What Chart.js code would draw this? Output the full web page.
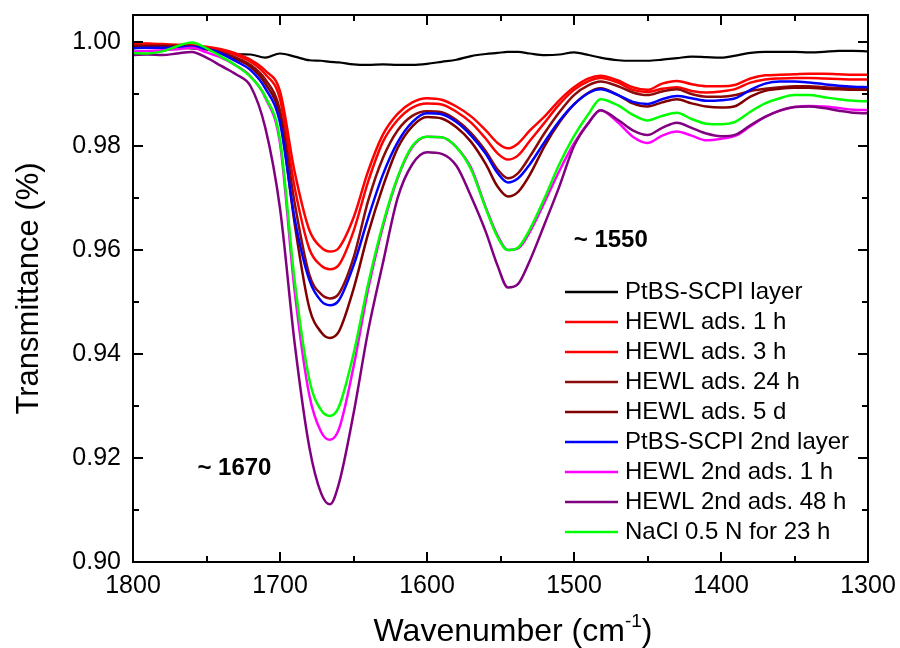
<!DOCTYPE html>
<html>
<head>
<meta charset="utf-8">
<script src="https://cdn.jsdelivr.net/npm/chart.js@4.4.1/dist/chart.umd.min.js"></script>
<style>
  body { margin: 0; background: #fff; }
  #wrap { width: 900px; height: 648px; }
</style>
</head>
<body>
<div id="wrap"><canvas id="myChart"></canvas></div>
<script>
// wavenumber grid (cm-1)
var wavenumbers = [1800, 1790, 1780, 1770, 1760, 1750, 1740, 1730, 1720, 1710,
  1700, 1690, 1680, 1672, 1666, 1660, 1650, 1640, 1630, 1620,
  1610, 1600, 1590, 1580, 1570, 1560, 1552, 1545, 1538, 1530,
  1520, 1510, 1500, 1490, 1482, 1470, 1460, 1450, 1440, 1430,
  1420, 1410, 1400, 1390, 1380, 1370, 1360, 1350, 1340, 1330,
  1320, 1310, 1300];

var pss1 = [0.9992, 0.9991, 0.9990, 0.9989, 0.9988, 0.9986, 0.9984, 0.9977, 0.9976, 0.9970,
  0.9978, 0.9972, 0.9965, 0.9964, 0.9962, 0.9961, 0.9957, 0.9956, 0.9957, 0.9956,
  0.9956, 0.9958, 0.9962, 0.9966, 0.9973, 0.9977, 0.9979, 0.9981, 0.9981, 0.9978,
  0.9975, 0.9976, 0.9980, 0.9975, 0.9970, 0.9965, 0.9964, 0.9964, 0.9966, 0.9969,
  0.9972, 0.9971, 0.9970, 0.9974, 0.9979, 0.9981, 0.9981, 0.9981, 0.9980, 0.9981,
  0.9983, 0.9983, 0.9982];

var hewl1h = [0.99975, 0.9997, 0.9996, 0.9995, 0.9994, 0.9991, 0.9986, 0.9978, 0.9966, 0.9945,
  0.9905, 0.9750, 0.9638, 0.9605, 0.9597, 0.9604, 0.9662, 0.9752, 0.9822, 0.9862,
  0.9884, 0.9892, 0.9889, 0.9876, 0.9857, 0.9830, 0.9806, 0.97955, 0.9805, 0.9830,
  0.9857, 0.9888, 0.9913, 0.9930, 0.9935, 0.9926, 0.9913, 0.9908, 0.9920, 0.9925,
  0.9919, 0.9915, 0.9915, 0.9918, 0.9930, 0.9936, 0.9937, 0.9938, 0.9939, 0.9939,
  0.9938, 0.9937, 0.9937];

var hewl3h = [0.9996, 0.9996, 0.9995, 0.9994, 0.9993, 0.9989, 0.9984, 0.9975, 0.9962, 0.9938,
  0.9890, 0.9720, 0.9602, 0.9570, 0.9563, 0.9571, 0.9636, 0.9732, 0.9808, 0.9850,
  0.9874, 0.9882, 0.9880, 0.9866, 0.9845, 0.9814, 0.9786, 0.9774, 0.9782, 0.9810,
  0.9845, 0.9880, 0.9908, 0.9925, 0.9931, 0.9922, 0.9908, 0.9904, 0.9910, 0.9913,
  0.9906, 0.9903, 0.9905, 0.9910, 0.9922, 0.9928, 0.9930, 0.9931, 0.9931, 0.9930,
  0.9929, 0.9928, 0.9928];

var hewl24h = [0.9993, 0.9993, 0.9993, 0.9993, 0.9992, 0.9987, 0.9980, 0.9970, 0.9956, 0.9928,
  0.9868, 0.9690, 0.9552, 0.9515, 0.9507, 0.9516, 0.9585, 0.9695, 0.9777, 0.9830,
  0.9858, 0.9867, 0.9865, 0.9850, 0.9825, 0.9790, 0.9755, 0.9738, 0.9748, 0.9780,
  0.9825, 0.9865, 0.9898, 0.9917, 0.9924, 0.9915, 0.9903, 0.9898, 0.9905, 0.9909,
  0.9900, 0.9895, 0.9895, 0.9898, 0.9906, 0.9910, 0.9913, 0.9915, 0.9915, 0.9913,
  0.9912, 0.9911, 0.9911];

var hewl5d = [0.9991, 0.9991, 0.9991, 0.9991, 0.9991, 0.9986, 0.9978, 0.9967, 0.9952, 0.9920,
  0.9855, 0.9650, 0.9488, 0.9442, 0.9431, 0.9443, 0.9525, 0.9632, 0.9722, 0.9796,
  0.9838, 0.9856, 0.9853, 0.9836, 0.9808, 0.9765, 0.9722, 0.9703, 0.9712, 0.9745,
  0.9800, 0.9845, 0.9880, 0.9903, 0.9911, 0.9898, 0.9882, 0.9876, 0.9884, 0.9890,
  0.9882, 0.9876, 0.9874, 0.9877, 0.9895, 0.9906, 0.9910, 0.9912, 0.9912, 0.9910,
  0.9909, 0.9908, 0.9908];

var pss2 = [0.9988, 0.9989, 0.9989, 0.9990, 0.9991, 0.9987, 0.9978, 0.9963, 0.9946, 0.9911,
  0.9845, 0.9660, 0.9542, 0.9502, 0.9494, 0.9503, 0.9570, 0.9662, 0.9745, 0.9807,
  0.9846, 0.9863, 0.9861, 0.9846, 0.9820, 0.9785, 0.9748, 0.9730, 0.9738, 0.9765,
  0.9808, 0.9848, 0.9880, 0.9902, 0.9909, 0.9898, 0.9885, 0.9881, 0.9890, 0.9896,
  0.9892, 0.9887, 0.9888, 0.9892, 0.9908, 0.9920, 0.9924, 0.9924, 0.9922, 0.9919,
  0.9916, 0.9914, 0.9913];

var hewl2nd1h = [0.9982, 0.9983, 0.9984, 0.9986, 0.9989, 0.9980, 0.9970, 0.9955, 0.9934, 0.9893,
  0.9805, 0.9520, 0.9320, 0.9250, 0.9235, 0.9255, 0.9375, 0.9525, 0.9645, 0.9738,
  0.9798, 0.9818, 0.9817, 0.9798, 0.9758, 0.9682, 0.9628, 0.9600, 0.9603, 0.9635,
  0.9692, 0.9752, 0.9805, 0.9845, 0.9869, 0.9845, 0.9818, 0.9806, 0.9820, 0.9828,
  0.9820, 0.9811, 0.9814, 0.9820, 0.9838, 0.9856, 0.9868, 0.9875, 0.9877, 0.9876,
  0.9873, 0.9870, 0.9869];

var hewl2nd48h = [0.9975, 0.9976, 0.9975, 0.9978, 0.9981, 0.9970, 0.9954, 0.9938, 0.9915, 0.9835,
  0.9680, 0.9420, 0.9220, 0.9132, 0.9111, 0.9150, 0.9285, 0.9445, 0.9575, 0.9700,
  0.9765, 0.9788, 0.9785, 0.9762, 0.9703, 0.9635, 0.9570, 0.9528, 0.9535, 0.9580,
  0.9650, 0.9722, 0.9800, 0.9845, 0.9869, 0.9850, 0.9830, 0.9821, 0.9835, 0.9845,
  0.9835, 0.9824, 0.9819, 0.9822, 0.9840, 0.9856, 0.9868, 0.9875, 0.9876, 0.9873,
  0.9868, 0.9864, 0.9863];

var nacl23h = [0.9979, 0.9978, 0.9982, 0.9992, 0.9999, 0.9988, 0.9972, 0.9955, 0.9933, 0.9895,
  0.9812, 0.9540, 0.9350, 0.9292, 0.9281, 0.9298, 0.9400, 0.9535, 0.9650, 0.9740,
  0.9800, 0.9818, 0.9817, 0.9798, 0.9755, 0.9680, 0.9625, 0.9600, 0.9605, 0.9640,
  0.9700, 0.9765, 0.9819, 0.9862, 0.9890, 0.9878, 0.9860, 0.9849, 0.9858, 0.9864,
  0.9852, 0.9843, 0.9842, 0.9847, 0.9866, 0.9882, 0.9892, 0.9898, 0.9898, 0.9894,
  0.9890, 0.9887, 0.9886];

var seriesNames = ["PtBS-SCPI layer", "HEWL ads. 1 h", "HEWL ads. 3 h", "HEWL ads. 24 h",
  "HEWL ads. 5 d", "PtBS-SCPI 2nd layer", "HEWL 2nd ads. 1 h", "HEWL 2nd ads. 48 h",
  "NaCl 0.5 N for 23 h"];
var seriesValues = [pss1, hewl1h, hewl3h, hewl24h, hewl5d, pss2, hewl2nd1h, hewl2nd48h, nacl23h];
var seriesColors = ["#000000", "#ff0000", "#ff0000", "#8b0a0a", "#800000", "#0000ff",
  "#ff00ff", "#800080", "#00ff00"];

var xMajorTicks = [1800, 1700, 1600, 1500, 1400, 1300];
var xMinorTicks = [1750, 1650, 1550, 1450, 1350];
var yMajorTicks = [0.90, 0.92, 0.94, 0.96, 0.98, 1.00];
var yMinorTicks = [0.91, 0.93, 0.95, 0.97, 0.99];

var peakNotes = ["~ 1670", "~ 1550"];

var FONT = "'Liberation Sans', Arial, sans-serif";

// frame, inward ticks, labels, titles, legend and band notes
var decor = {
  id: "decor",
  afterDatasetsDraw(chart) {
    var c = chart.ctx, a = chart.chartArea;
    var xs = chart.scales.x, ys = chart.scales.y;
    c.save();
    c.strokeStyle = "#000";
    c.lineWidth = 2;
    c.strokeRect(a.left, a.top, a.right - a.left, a.bottom - a.top);

    function xt(v, len) {
      var px = Math.round(xs.getPixelForValue(v));
      c.beginPath();
      c.moveTo(px, a.bottom); c.lineTo(px, a.bottom - len);
      c.moveTo(px, a.top); c.lineTo(px, a.top + len);
      c.stroke();
    }
    function yt(v, len) {
      var py = Math.round(ys.getPixelForValue(v));
      c.beginPath();
      c.moveTo(a.left, py); c.lineTo(a.left + len, py);
      c.moveTo(a.right, py); c.lineTo(a.right - len, py);
      c.stroke();
    }
    xMajorTicks.forEach(v => xt(v, 10));
    xMinorTicks.forEach(v => xt(v, 6));
    yMajorTicks.forEach(v => yt(v, 10));
    yMinorTicks.forEach(v => yt(v, 6));

    c.fillStyle = "#000";
    c.font = "25px " + FONT;
    c.textAlign = "center";
    c.textBaseline = "middle";
    xMajorTicks.forEach(v => c.fillText(String(v), xs.getPixelForValue(v), a.bottom + 24));
    c.textAlign = "right";
    yMajorTicks.forEach(v => c.fillText(v.toFixed(2), a.left - 12, ys.getPixelForValue(v)));

    // axis titles
    c.font = "31px " + FONT;
    c.save();
    c.translate(29, (a.top + a.bottom) / 2);
    c.rotate(-Math.PI / 2);
    c.textAlign = "center";
    c.fillText("Transmittance (%)", 0, 0);
    c.restore();

    var main = "Wavenumber (cm", sup = "-1", tail = ")";
    c.font = "32px " + FONT;
    var w1 = c.measureText(main).width, w3 = c.measureText(tail).width;
    c.font = "19px " + FONT;
    var w2 = c.measureText(sup).width;
    var x0 = 513 - (w1 + w2 + w3) / 2, base = 641;
    c.textAlign = "left";
    c.textBaseline = "alphabetic";
    c.font = "32px " + FONT;
    c.fillText(main, x0, base);
    c.font = "19px " + FONT;
    c.fillText(sup, x0 + w1, base - 14);
    c.font = "32px " + FONT;
    c.fillText(tail, x0 + w1 + w2, base);

    // band notes
    c.font = "bold 24px " + FONT;
    c.textAlign = "center";
    c.textBaseline = "middle";
    c.fillText(peakNotes[0], xs.getPixelForValue(1731), ys.getPixelForValue(0.9181));
    c.fillText(peakNotes[1], xs.getPixelForValue(1475), ys.getPixelForValue(0.9619));

    // legend
    c.font = "24px " + FONT;
    c.textAlign = "left";
    chart.data.datasets.forEach(function (ds, i) {
      var y = 292 + i * 30;
      c.strokeStyle = ds.borderColor;
      c.lineWidth = 2.5;
      c.beginPath();
      c.moveTo(565, y); c.lineTo(618, y);
      c.stroke();
      c.fillText(ds.label, 625, y);
    });
    c.restore();
  }
};

var ctx = document.getElementById("myChart");
var chart = new Chart(ctx, {
  type: "line",
  data: {
    datasets: seriesNames.map(function (name, i) {
      return {
        label: name,
        data: wavenumbers.map((w, k) => ({ x: w, y: seriesValues[i][k] })),
        borderColor: seriesColors[i],
        backgroundColor: seriesColors[i],
        borderWidth: i === 0 ? 2.2 : 2.5,
        pointRadius: 0,
        cubicInterpolationMode: "monotone",
        fill: false,
        order: seriesNames.length - i,
      };
    }),
  },
  options: {
    animation: false,
    responsive: true,
    maintainAspectRatio: false,
    layout: { padding: { left: 133, right: 32, top: 15, bottom: 86 } },
    scales: {
      x: { type: "linear", reverse: true, min: 1300, max: 1800, display: false },
      y: { type: "linear", min: 0.9, max: 1.0052, display: false },
    },
    plugins: {
      legend: { display: false },
      tooltip: { enabled: false },
    },
  },
  plugins: [decor],
});
</script>
</body>
</html>
